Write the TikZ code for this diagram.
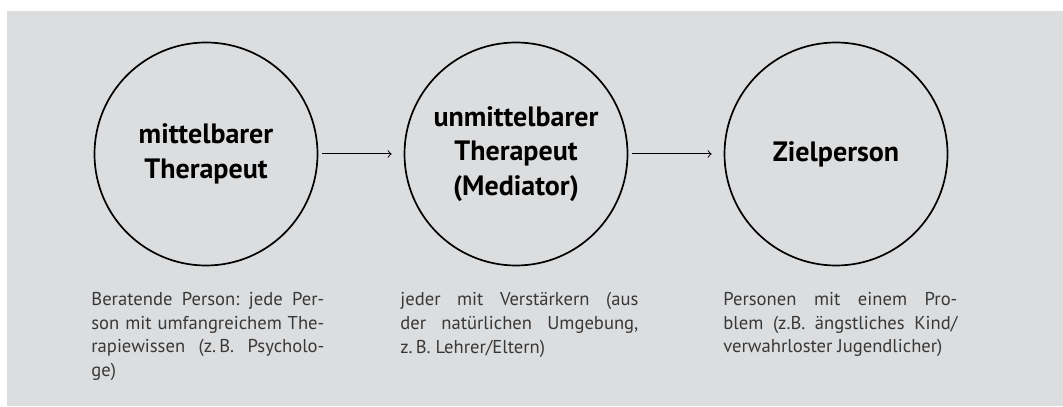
\documentclass[tikz,border=0pt]{standalone}
\usepackage{fontspec}
\setmainfont{PT Sans}
\usetikzlibrary{positioning}
\definecolor{bggray}{HTML}{DCDDDF}
\definecolor{textgray}{HTML}{383838}
\hyphenpenalty=10000
\begin{document}
\begin{tikzpicture}[x=0.5pt,y=0.5pt,
    kreis/.style={draw, circle, line width=0.85pt, minimum size=111.5pt, inner sep=0pt,
      align=center, font=\bfseries\fontsize{14}{17.3}\selectfont},
    info/.style={anchor=north west, inner sep=0pt, align=justify, text=textgray,
      font=\fontsize{9.3}{11.85}\selectfont},
    pfeil/.style={->, line width=0.5pt, shorten <=2pt, shorten >=6pt}]
  \useasboundingbox (0,0) rectangle (1063,406);
  \fill[bggray] (7,0) rectangle (1063,395);

  \node (c1) [kreis] at (206,252) {mittelbarer\\Therapeut};
  \node (c2) [kreis] at (516,252) {unmittelbarer\\Therapeut\\(Mediator)};
  \node (c3) [kreis] at (836,252) {Zielperson};

  \draw[pfeil] (c1) -- (c2);
  \draw[pfeil] (c2) -- (c3);

  \node (t1) [info, text width=116.5pt] at (91,114)
    {Beratende~Person:~jede~Per-\linebreak son~mit~umfangreichem~The-\linebreak
     rapiewissen~(z.\,B.~Psycholo-\linebreak ge)};
  \node (t2) [info, text width=119pt] at (400,114)
    {jeder~mit~Verstärkern~(aus\linebreak der~natürlichen~Umgebung,\linebreak
     z.\,B. Lehrer/Eltern)};
  \node (t3) [info, text width=117pt] at (723,114)
    {Personen~mit~einem~Pro-\linebreak blem~(z.B.~ängstliches~Kind/\linebreak
     verwahrloster Jugendlicher)};
\end{tikzpicture}
\end{document}
